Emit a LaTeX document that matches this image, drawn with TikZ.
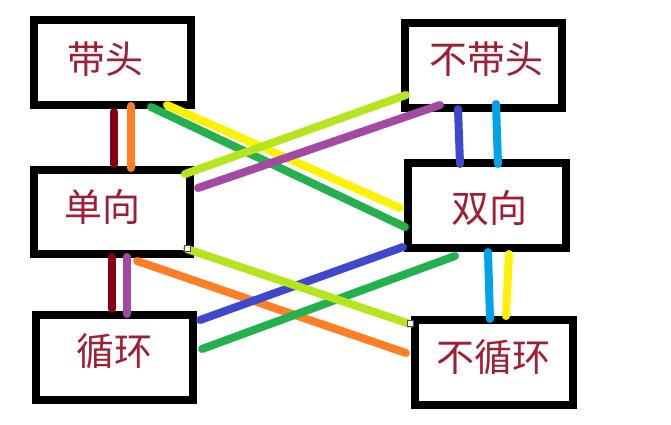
\documentclass[tikz,border=0pt]{standalone}
\usepackage{fontspec}
\newfontfamily\cjk{Noto Sans CJK SC}
\definecolor{txtred}{RGB}{158,30,52}
\definecolor{pdarkred}{RGB}{136,0,21}
\definecolor{porange}{RGB}{255,127,39}
\definecolor{pyellow}{RGB}{255,242,0}
\definecolor{pgreen}{RGB}{34,177,76}
\definecolor{plime}{RGB}{181,230,29}
\definecolor{ppurple}{RGB}{163,73,164}
\definecolor{pblue}{RGB}{63,72,204}
\definecolor{pcyan}{RGB}{0,162,232}
\begin{document}
\begin{tikzpicture}[x=1pt,y=-1pt,
  box/.style={draw=black,line width=8pt,minimum width=157pt,minimum height=85pt,inner sep=0pt,fill=white},
  lbl/.style={font=\cjk\fontsize{38}{40}\selectfont,text=txtred,inner sep=0pt},
  conn/.style={line width=8pt,line cap=round},
  handle/.style={draw=black!70,fill=white,line width=1pt,minimum size=6pt,inner sep=0pt}]
\useasboundingbox (0,0) rectangle (671,425);
\fill[white] (0,0) rectangle (671,425);
% boxes
\node[box,label={[lbl,shift={(-7,-3)}]center:带头}] (dt) at (112.5,62.5) {};
\node[box,label={[lbl,shift={(3,-6)}]center:不带头}] (bdt) at (483.5,65.5) {};
\node[box,minimum width=156pt,minimum height=84pt,label={[lbl,shift={(-10,-5)}]center:单向}] (dx) at (112,212) {};
\node[box,minimum width=158pt,label={[lbl,shift={(2,2.5)}]center:双向}] (sx) at (487,205.5) {};
\node[box,label={[lbl,shift={(0,-6)}]center:循环}] (xh) at (114.5,357.5) {};
\node[box,minimum width=158pt,label={[lbl,shift={(-1,-5)}]center:不循环}] (bxh) at (494,362.5) {};
% vertical connectors
\draw[conn,pdarkred] ([shift={(1.5,49.5)}]dt.center) -- ([shift={(2,-48)}]dx.center);
\draw[conn,porange] ([shift={(18.5,43.5)}]dt.center) -- ([shift={(19,-44)}]dx.center);
\draw[conn,pblue] ([shift={(-25.5,43.5)}]bdt.center) -- ([shift={(-27,-41.5)}]sx.center);
\draw[conn,pcyan] ([shift={(12.5,38.5)}]bdt.center) -- ([shift={(11,-41.5)}]sx.center);
\draw[conn,pdarkred] ([shift={(0,45)}]dx.center) -- ([shift={(-2.5,-48.5)}]xh.center);
\draw[conn,ppurple] ([shift={(15,45)}]dx.center) -- ([shift={(12.5,-43.5)}]xh.center);
\draw[conn,pcyan] ([shift={(1,46.5)}]sx.center) -- ([shift={(-4,-43.5)}]bxh.center);
\draw[conn,pyellow] ([shift={(22,48.5)}]sx.center) -- ([shift={(12,-46.5)}]bxh.center);
% upper crossing
\draw[conn,pgreen] ([shift={(38.5,44.5)}]dt.center) -- ([shift={(-82,21.5)}]sx.center);
\draw[conn,pyellow] ([shift={(54.5,42.5)}]dt.center) -- ([shift={(-87,2.5)}]sx.center);
\draw[conn,plime] ([shift={(73,-38)}]dx.center) -- ([shift={(-77.5,29.5)}]bdt.center);
\draw[conn,ppurple] ([shift={(86,-24)}]dx.center) -- ([shift={(-43.5,39.5)}]bdt.center);
% lower crossing
\draw[conn,porange] ([shift={(25,49)}]dx.center) -- ([shift={(-88,-9.5)}]bxh.center);
\draw[conn,pblue] ([shift={(85.5,-37.5)}]xh.center) -- ([shift={(-84,41.5)}]sx.center);
\draw[conn,pgreen] ([shift={(87.5,-8.5)}]xh.center) -- ([shift={(-32,50.5)}]sx.center);
\draw[conn,plime] ([shift={(75,37)}]dx.center) -- ([shift={(-84,-38.5)}]bxh.center);
\node[handle] (h1) at ([shift={(75,36)}]dx.center) {};
\node[handle] (h2) at ([shift={(-84,-39.5)}]bxh.center) {};
\end{tikzpicture}
\end{document}
